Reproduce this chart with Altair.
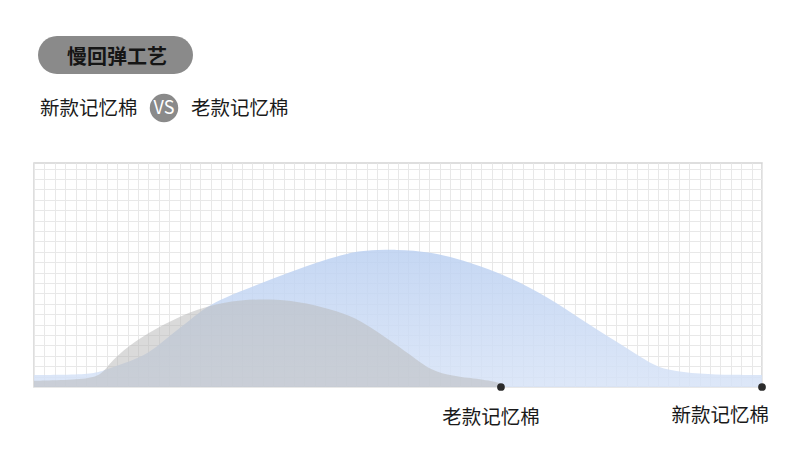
import altair as alt
import pandas as pd

# ---- data (grid units: 1 unit = one grid cell) ----
new_x = [0, 2.5, 5.4, 6.5, 7.3, 10.2, 11.8, 13.4, 15.0, 16.6, 18.2, 21.4, 24.6, 27.8,
         30.4, 31.6, 34.9, 38.1, 41.3, 44.5, 47.7, 50.9, 54.1, 57.3, 59.2, 60.9, 64.0, 67.2, 70]
new_y = [1.15, 1.15, 1.25, 1.5, 1.8, 2.8, 3.85, 5.2, 6.45, 7.7, 8.55, 9.8, 11.05, 12.2,
         12.9, 13.1, 13.25, 13.0, 12.2, 11.05, 9.6, 7.7, 5.5, 3.55, 2.3, 1.6, 1.25, 1.15, 1.15]
old_x = [0, 3.5, 5.9, 6.8, 7.3, 8.6, 10.2, 11.8, 13.4, 15.0, 16.6, 18.2, 19.8, 22.0,
         24.6, 27.8, 30.4, 32.3, 34.2, 36.2, 37.8, 39.7, 41.9, 44.5, 44.9]
old_y = [0.6, 0.67, 0.87, 1.6, 2.3, 3.55, 4.7, 5.65, 6.45, 7.2, 7.7, 8.1, 8.35, 8.45,
         8.35, 7.7, 6.9, 5.8, 4.5, 3.1, 1.8, 1.15, 0.87, 0.5, 0.3]
series_names = ["新款记忆棉", "老款记忆棉"]
end_x = [70, 44.9]
end_y = [0, 0]

title_text = "慢回弹工艺"
vs_text = "VS"

X_MAX = 70
Y_MAX = 21.54
grid_x = list(range(0, X_MAX + 1))
grid_y = list(range(0, 22))

df_new = pd.DataFrame({"x": new_x, "y": new_y})
df_old = pd.DataFrame({"x": old_x, "y": old_y})
df_end = pd.DataFrame({"name": series_names, "x": end_x, "y": end_y})

FONT = "Noto Sans CJK SC"

xs = alt.Scale(domain=[0, X_MAX], nice=False, zero=False)
ys = alt.Scale(domain=[0, Y_MAX], nice=False, zero=False)

ax_x = alt.Axis(values=grid_x, grid=True, labels=False, ticks=False, domain=False,
                title=None, gridColor="#e8e8e8", gridWidth=1, labelOverlap=False)
ax_y = alt.Axis(values=grid_y, grid=True, labels=False, ticks=False, domain=False,
                title=None, gridColor="#e8e8e8", gridWidth=1, labelOverlap=False)

X = alt.X("x:Q", scale=xs, axis=ax_x)
Y = alt.Y("y:Q", scale=ys, axis=ax_y)

blue = alt.Chart(df_new).mark_area(
    interpolate="basis",
    color=alt.LinearGradient(
        gradient="linear", x1=0, y1=0, x2=0, y2=1,
        stops=[alt.GradientStop(color="#bbd0f1", offset=0),
               alt.GradientStop(color="#d7e3f7", offset=1)]),
    opacity=0.85,
).encode(x=X, y=Y)

gray = alt.Chart(df_old).mark_area(
    interpolate="basis", color="#b9b9b9", opacity=0.52,
).encode(x=X, y=Y)

dots = alt.Chart(df_end).mark_circle(size=60, color="#2b2b2b", opacity=1).encode(x=X, y=Y)

label_old = alt.Chart(df_end[df_end["name"] == "老款记忆棉"]).mark_text(
    font=FONT, fontSize=19.5, color="#1a1a1a", align="center", baseline="middle", dx=-10, dy=31,
).encode(x=X, y=Y, text="name:N")

label_new = alt.Chart(df_end[df_end["name"] == "新款记忆棉"]).mark_text(
    font=FONT, fontSize=19.5, color="#1a1a1a", align="right", baseline="middle", dx=7, dy=29,
).encode(x=X, y=Y, text="name:N")

# ---- header decorations ----
hdr = pd.DataFrame({"t": [title_text]})
pill = alt.Chart(hdr).mark_rect(color="#8a8a8a", cornerRadius=19).encode(
    x=alt.value(4), x2=alt.value(159), y=alt.value(-127), y2=alt.value(-89))
pill_text = alt.Chart(hdr).mark_text(
    font=FONT, fontSize=20, fontWeight="bold", color="#151515", align="center", baseline="middle",
).encode(x=alt.value(83), y=alt.value(-105), text="t:N")

sub = pd.DataFrame({"a": [series_names[0]], "b": [series_names[1]], "vs": [vs_text]})
sub_a = alt.Chart(sub).mark_text(
    font=FONT, fontSize=19.5, color="#1a1a1a", align="left", baseline="middle",
).encode(x=alt.value(6), y=alt.value(-54), text="a:N")
vs_circle = alt.Chart(sub).mark_circle(size=810, color="#8a8a8a", opacity=1).encode(
    x=alt.value(130), y=alt.value(-55))
vs_label = alt.Chart(sub).mark_text(
    font=FONT, fontSize=18, color="#ffffff", align="center", baseline="middle",
).encode(x=alt.value(130), y=alt.value(-54), text="vs:N")
sub_b = alt.Chart(sub).mark_text(
    font=FONT, fontSize=19.5, color="#1a1a1a", align="left", baseline="middle",
).encode(x=alt.value(157), y=alt.value(-54), text="b:N")

chart = alt.layer(
    blue, gray, dots, label_old, label_new,
    pill, pill_text, sub_a, vs_circle, vs_label, sub_b,
).properties(
    width=728, height=224,
    autosize=alt.AutoSizeParams(type="none"),
    padding={"left": 26, "top": 155, "right": 20, "bottom": 61},
    background="#ffffff",
).configure_view(
    stroke="#d4d4d4", strokeWidth=1.5,
)

chart.save("out.html", embed_options={"renderer": "svg", "actions": False})
